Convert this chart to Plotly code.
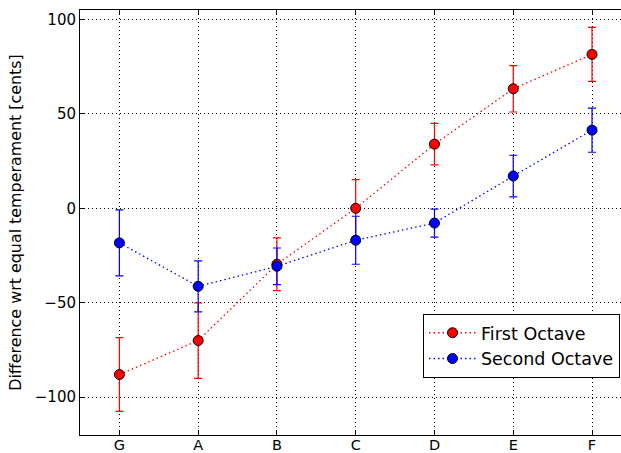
import plotly.graph_objects as go

notes = ["G", "A", "B", "C", "D", "E", "F"]
first_octave = [-88, -70, -29.6, 0, 34, 63.3, 81.5]
first_err = [19.5, 20, 14, 15.2, 11, 12.3, 14.3]
second_octave = [-18.3, -41.3, -30.7, -16.9, -7.8, 17.1, 41.4]
second_err = [17.5, 13.5, 9.7, 12.7, 7.4, 11, 11.7]

xpos = list(range(len(notes)))

fig = go.Figure()
for name, vals, errs, col in [
    ("First Octave", first_octave, first_err, "red"),
    ("Second Octave", second_octave, second_err, "blue"),
]:
    fig.add_trace(go.Scatter(
        x=xpos, y=vals, name=name, mode="lines+markers",
        line=dict(color=col, width=1.3, dash="1.5px,3px"),
        marker=dict(color=col, size=10, line=dict(color="black", width=1)),
        error_y=dict(type="data", array=errs, color=col, thickness=1.2, width=4),
    ))

font = "DejaVu Sans, sans-serif"
fig.update_layout(
    width=621, height=453,
    margin=dict(l=80, r=0, t=10, b=18, autoexpand=False),
    plot_bgcolor="white", paper_bgcolor="white",
    font=dict(family=font, size=15, color="black"),
    showlegend=True,
    legend=dict(x=0.634, y=0.285, xanchor="left", yanchor="top",
                bordercolor="black", borderwidth=1, bgcolor="white",
                font=dict(size=17.5, family=font), tracegroupgap=0,
                itemwidth=47),
    xaxis=dict(range=[-0.5, 6.368], tickvals=xpos, ticktext=notes,
               tickfont=dict(size=14.5), ticklabelstandoff=-3,
               showline=True, linecolor="black", linewidth=1, mirror="ticks",
               ticks="inside", ticklen=5, tickcolor="black",
               showgrid=True, gridcolor="black", griddash="1px,3px", gridwidth=1,
               zeroline=False, automargin=False),
    yaxis=dict(range=[-120, 105], tickvals=[-100, -50, 0, 50, 100],
               showline=True, linecolor="black", linewidth=1,
               ticks="inside", ticklen=5, tickcolor="black",
               showgrid=True, gridcolor="black", griddash="1px,3px", gridwidth=1,
               zeroline=False, automargin=False,
               title=dict(text="Difference wrt equal temperament [cents]",
                          font=dict(size=15.9, family=font), standoff=9)),
)

fig.write_html("out.html")
